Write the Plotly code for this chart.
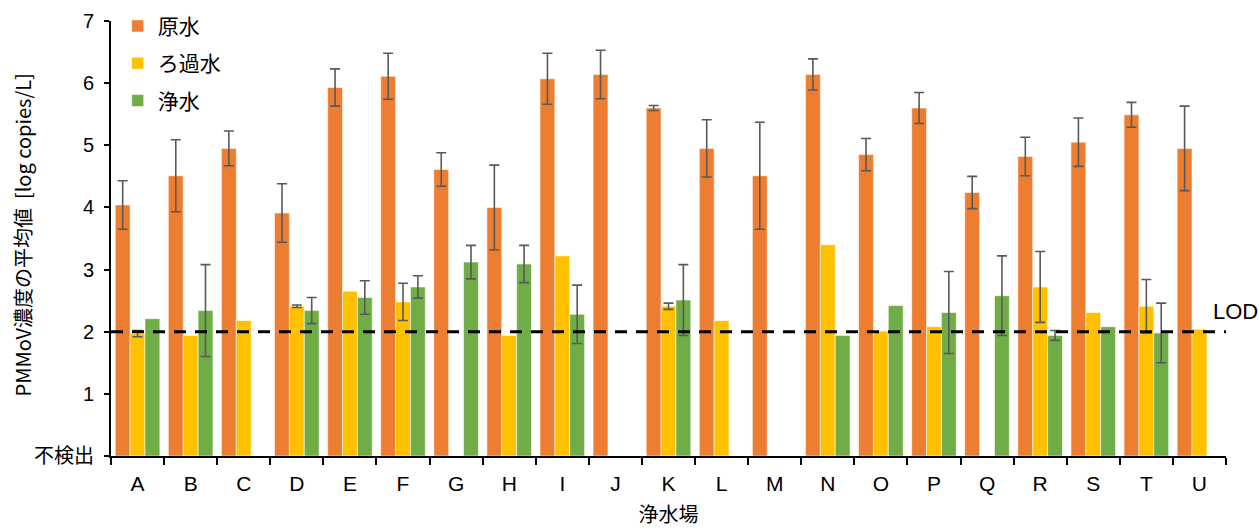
import numpy as np
import plotly.graph_objects as go

# Water treatment plants
plants = list("ABCDEFGHIJKLMNOPQRSTU")

# Mean PMMoV concentration [log copies/L]; None = no bar
raw_water = [4.04, 4.51, 4.95, 3.91, 5.93, 6.11, 4.61, 4.00, 6.07, 6.14, 5.60,
             4.95, 4.51, 6.14, 4.85, 5.60, 4.24, 4.82, 5.05, 5.49, 4.95]
raw_err = [0.39, 0.58, 0.28, 0.47, 0.30, 0.37, 0.27, 0.68, 0.41, 0.39, 0.04,
           0.46, 0.86, 0.25, 0.26, 0.25, 0.26, 0.31, 0.39, 0.20, 0.68]

filtered_water = [1.97, 1.94, 2.18, 2.41, 2.65, 2.48, None, 1.94, 3.22, None, 2.41,
                  2.18, None, 3.40, 2.01, 2.08, None, 2.72, 2.31, 2.41, 2.04]
filtered_err = [0.05, None, None, 0.02, None, 0.30, None, None, None, None, 0.05,
                None, None, None, None, None, None, 0.57, None, 0.43, None]

treated_water = [2.21, 2.34, None, 2.34, 2.55, 2.72, 3.12, 3.09, 2.28, None, 2.51,
                 None, None, 1.94, 2.42, 2.31, 2.58, 1.94, 2.08, 1.98, None]
treated_err = [None, 0.74, None, 0.21, 0.27, 0.18, 0.27, 0.30, 0.47, None, 0.57,
               None, None, None, None, 0.66, 0.64, 0.08, None, 0.48, None]

series_names = ["原水", "ろ過水", "浄水"]
series_colors = ["#ED7D31", "#FFC000", "#70AD47"]

lod_value = 2
y_tick_vals = [0, 1, 2, 3, 4, 5, 6, 7]
y_tick_text = ["不検出", "1", "2", "3", "4", "5", "6", "7"]

LATIN = "Liberation Sans, Arial, Noto Sans CJK JP, sans-serif"
CJK = "Noto Sans CJK JP, Liberation Sans, sans-serif"


def as_array(values):
    return np.array([np.nan if v is None else v for v in values], dtype=float)


fig = go.Figure()
for i, (name, vals, errs, color) in enumerate(zip(
        series_names,
        [raw_water, filtered_water, treated_water],
        [raw_err, filtered_err, treated_err],
        series_colors)):
    fig.add_trace(go.Bar(
        name=name,
        x=plants,
        y=as_array(vals),
        legendgroup=f"g{i}",
        marker=dict(color=color, line=dict(color="rgba(255,255,255,0.55)", width=1)),
        error_y=dict(type="data", array=as_array(errs), visible=True,
                     color="#595959", thickness=1.6, width=5),
    ))

# Limit of detection
fig.add_shape(type="line", xref="paper", x0=0, x1=1, yref="y", y0=lod_value, y1=lod_value,
              line=dict(color="black", width=3, dash="12px,9px"), layer="above")
fig.add_annotation(text="LOD", xref="paper", x=0.9865, xanchor="left",
                   yref="y", y=lod_value, yanchor="middle", yshift=20,
                   showarrow=False, font=dict(family=LATIN, size=22, color="black"))

# Vertical axis title
fig.add_annotation(text="PMMoV濃度の平均値  [log copies/L]", textangle=-90,
                   xref="paper", x=-0.079, xanchor="center",
                   yref="paper", y=0.5, yanchor="middle", yshift=4,
                   showarrow=False, font=dict(family=CJK, size=20, color="black"))

fig.update_layout(
    width=1259, height=528,
    margin=dict(l=111, r=33, t=21, b=72, autoexpand=False),
    paper_bgcolor="white", plot_bgcolor="white",
    barmode="group", bargap=0.16, bargroupgap=0,
    legend=dict(x=0.006, y=1.035, xanchor="left", yanchor="top",
                bgcolor="rgba(0,0,0,0)", tracegroupgap=7,
                font=dict(family=CJK, size=21, color="black"),
                traceorder="grouped"),
    xaxis=dict(
        title=dict(text="浄水場", font=dict(family=CJK, size=20, color="black"), standoff=22),
        automargin=False,
        tickfont=dict(family=LATIN, size=21, color="black"),
        ticklabelstandoff=8,
        showline=True, linecolor="black", linewidth=2,
        ticks="outside", tickson="boundaries", ticklen=7, tickwidth=1.5, tickcolor="black",
        showgrid=False,
    ),
    yaxis=dict(
        range=[0, 7], tickvals=y_tick_vals, ticktext=y_tick_text,
        automargin=False,
        tickfont=dict(family=LATIN, size=20, color="black"),
        ticklabelstandoff=6,
        showline=True, linecolor="black", linewidth=2,
        ticks="outside", ticklen=5, tickwidth=1.5, tickcolor="black",
        showgrid=False, zeroline=False,
    ),
)

fig.write_html("out.html")
